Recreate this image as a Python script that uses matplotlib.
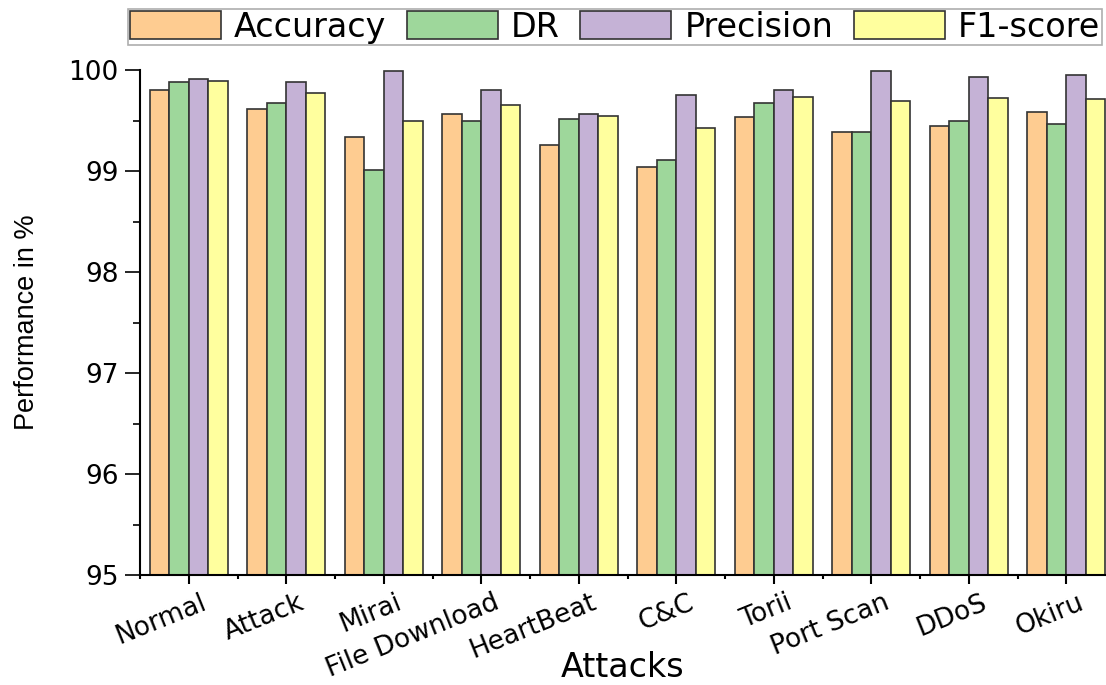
import numpy as np
import matplotlib
matplotlib.use("Agg")
import matplotlib.pyplot as plt
from matplotlib.ticker import MultipleLocator, FixedLocator
import matplotlib.transforms as mtransforms

categories = ["Normal", "Attack", "Mirai", "File Download", "HeartBeat",
              "C&C", "Torii", "Port Scan", "DDoS", "Okiru"]
accuracy = [99.80, 99.61, 99.34, 99.56, 99.26, 99.04, 99.53, 99.39, 99.45, 99.58]
dr = [99.88, 99.67, 99.01, 99.50, 99.51, 99.11, 99.67, 99.39, 99.50, 99.47]
precision = [99.91, 99.88, 99.99, 99.80, 99.56, 99.75, 99.80, 99.99, 99.93, 99.95]
f1 = [99.89, 99.77, 99.50, 99.65, 99.54, 99.43, 99.73, 99.69, 99.72, 99.71]

series = [("Accuracy", accuracy, "#FECC91"),
          ("DR", dr, "#9ED79B"),
          ("Precision", precision, "#C5B2D6"),
          ("F1-score", f1, "#FFFF9E")]

plt.rcParams['font.family'] = ['DejaVu Sans']

W, H = 1106, 685
fig = plt.figure(figsize=(W / 100, H / 100), dpi=100)
ax = fig.add_axes([140 / W, 110 / H, 966 / W, 505 / H])

x = np.arange(len(categories))
bw = 0.2
for i, (name, vals, col) in enumerate(series):
    ax.bar(x + (i - 1.5) * bw, vals, bw, color=col, edgecolor="#333333",
           linewidth=1.2, label=name, zorder=2)

ax.set_ylim(95, 100)
ax.set_xlim(-0.5, -0.5 + 966 / 97.5)
ax.spines['top'].set_visible(False)
ax.spines['right'].set_visible(False)
for s in ('left', 'bottom'):
    ax.spines[s].set_linewidth(1.5)
    ax.spines[s].set_color('black')

ax.yaxis.set_minor_locator(MultipleLocator(0.5))
ax.set_yticks([95, 96, 97, 98, 99, 100])
ax.set_yticklabels(["95", "96", "97", "98", "99", "100"])
ax.tick_params(axis='y', which='major', direction='out', length=10.5, width=1.2,
               labelsize=19, pad=5)
ax.tick_params(axis='y', which='minor', direction='out', length=5, width=1.2)

ax.set_xticks(x)
ax.xaxis.set_minor_locator(FixedLocator(np.arange(-0.5, len(categories), 1.0)))
ax.tick_params(axis='x', which='major', direction='out', length=6.5, width=1.5,
               labelsize=19, pad=4)
ax.tick_params(axis='x', which='minor', direction='out', length=3, width=1.5)
ax.set_xticklabels(categories, rotation=22, ha='right', va='top',
                   rotation_mode='anchor')
offset = mtransforms.ScaledTranslation(12 / 100, 0, fig.dpi_scale_trans)
for lbl in ax.get_xticklabels():
    lbl.set_transform(lbl.get_transform() + offset)

ax.set_xlabel("Attacks", fontsize=24, va='bottom')
ax.xaxis.set_label_coords(0.5, (1 - 110) / 505)
ax.set_ylabel("Performance in %", fontsize=19.5,
              family=['Liberation Sans', 'DejaVu Sans'], va='center')
ax.yaxis.set_label_coords((27 - 140) / 966, 0.5)

leg = ax.legend(loc='upper left', bbox_to_anchor=(128 / W, 1 - 9 / H),
                bbox_transform=fig.transFigure, ncol=4, frameon=True,
                fancybox=False, edgecolor='#9a9a9a', fontsize=24,
                handlelength=2.73, handleheight=0.9, handletextpad=0.39,
                columnspacing=0.62, borderpad=0.05, borderaxespad=0)
leg.get_frame().set_linewidth(1.2)

fig.savefig("out.png", dpi=100)
